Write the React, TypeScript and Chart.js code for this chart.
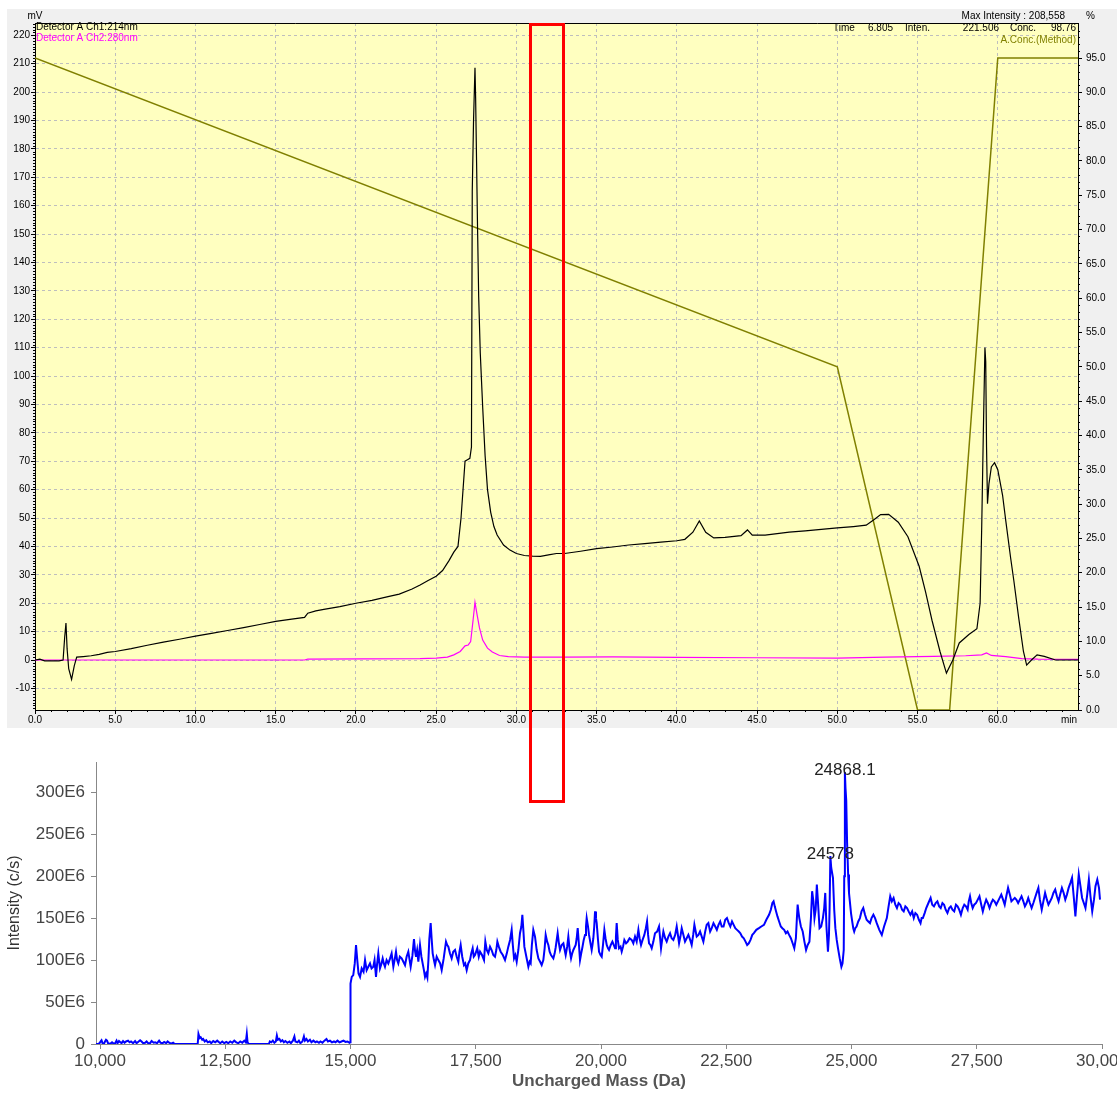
import React, { useEffect, useRef } from "react";
import { Chart, registerables } from "chart.js";
Chart.register(...registerables);

const FONT = "'Liberation Sans', Arial, sans-serif";

// ---------- Chromatogram (top) ----------
const chromTimeTicks = [0, 5, 10, 15, 20, 25, 30, 35, 40, 45, 50, 55, 60];
const mvTicks = [-10, 0, 10, 20, 30, 40, 50, 60, 70, 80, 90, 100, 110, 120, 130, 140, 150, 160, 170, 180, 190, 200, 210, 220];
const concTicks = [0, 5, 10, 15, 20, 25, 30, 35, 40, 45, 50, 55, 60, 65, 70, 75, 80, 85, 90, 95];

// Detector A Ch1:214nm (mV)
const ch1Time = [0, 0.3, 0.6, 1.0, 1.5, 1.75, 1.85, 1.93, 2.0, 2.1, 2.28, 2.45, 2.6, 3.0, 3.5, 4.0, 4.5, 5.0, 6, 7, 8, 9, 10, 11, 12, 13, 14, 15, 16, 16.8, 17.0, 17.5, 18, 19, 20, 21, 22, 22.7, 23.5, 24, 24.5, 25, 25.4, 25.8, 26.1, 26.36, 26.55, 26.7, 26.8, 26.95, 27.1, 27.2, 27.25, 27.33, 27.42, 27.46, 27.52, 27.58, 27.65, 27.75, 27.9, 28.05, 28.2, 28.4, 28.6, 28.8, 29.2, 29.6, 30, 30.5, 31, 31.5, 32, 32.5, 33, 34, 35, 36, 37, 38, 39, 40, 40.5, 41, 41.4, 41.8, 42.3, 43, 44, 44.4, 44.7, 45.5, 47, 48, 49, 50, 51, 51.8, 52.3, 52.7, 53.2, 53.8, 54.4, 55.1, 55.5, 55.9, 56.4, 56.8, 57.2, 57.6, 58.2, 58.7, 58.9, 59.0, 59.1, 59.2, 59.25, 59.3, 59.36, 59.45, 59.6, 59.8, 60.0, 60.3, 60.5, 60.8, 61.0, 61.3, 61.6, 61.8, 62.1, 62.45, 62.9, 63.6, 65];
const ch1Signal = [0, 0.3, -0.3, -0.3, -0.3, 0, 8, 13, 4, -3, -6.8, -2, 1, 1.2, 1.5, 2, 2.7, 3, 4, 5.2, 6.3, 7.3, 8.4, 9.4, 10.4, 11.4, 12.5, 13.6, 14.4, 15, 16.5, 17.3, 17.8, 18.8, 20, 21, 22.3, 23.2, 25, 26.4, 28, 29.5, 31.5, 35, 38, 40, 50, 62, 70, 70.5, 71, 75, 165, 190, 208.5, 198, 175, 152, 128, 108, 89, 72, 60, 52, 47, 44, 40.5, 38.7, 37.5, 36.8, 36.6, 36.5, 37, 37.5, 37.5, 38.3, 39.2, 39.8, 40.5, 41, 41.5, 42, 42.5, 45, 49, 45, 43, 43.2, 43.8, 45.8, 44, 44, 45, 45.5, 46, 46.5, 47, 47.5, 49.5, 51.2, 51.3, 48.5, 43.4, 33, 24, 14, 3, -4.6, 0, 6, 9, 11, 20, 47, 80, 110, 105, 75, 55, 62, 68, 69.5, 67, 58, 49, 36, 28, 15, 3, -1.8, 0, 1.8, 1.3, 0, 0];

// Detector A Ch2:280nm (mV)
const ch2Time = [0, 16.8, 17, 24, 25, 25.7, 26.1, 26.5, 26.8, 27.0, 27.15, 27.3, 27.42, 27.55, 27.7, 27.9, 28.2, 28.5, 28.95, 29.5, 30.5, 33, 36, 40, 45, 50, 53, 56, 58, 59.0, 59.3, 59.6, 60.5, 61.5, 62.5, 65];
const ch2Signal = [0, 0, 0.3, 0.5, 0.7, 1, 1.8, 3, 5, 5.3, 6.5, 14, 20.3, 16, 11.3, 7, 4.2, 2.8, 1.6, 1.2, 1, 1, 1.1, 0.9, 0.8, 0.7, 1, 1.3, 1.5, 1.8, 2.5, 1.6, 1.2, 0.5, 0.3, 0.2];

// A.Conc.(Method) (%)
const gradTime = [0, 50, 55, 57, 60, 65];
const gradConc = [95, 50, 0, 0, 95, 95];

// ---------- Deconvoluted mass spectrum (bottom) ----------
const massTicks = [10000, 12500, 15000, 17500, 20000, 22500, 25000, 27500, 30000];
const intensityTicks = [0, 50, 100, 150, 200, 250, 300];
const peakLabels = ["24868.1", "24578"];
const peakMass = [24868.1, 24578];
const peakIntensity = [324, 224];

const massDa = [9920, 9960, 9990, 10010, 10030, 10050, 10080, 10100, 10120, 10140, 10160, 10200, 10240, 10270, 10300, 10330, 10350, 10380, 10400, 10430, 10460, 10490, 10520, 10560, 10590, 10620, 10660, 10700, 10730, 10760, 10800, 10830, 10860, 10900, 10930, 10960, 11000, 11030, 11070, 11100, 11140, 11180, 11210, 11250, 11280, 11320, 11350, 11380, 11420, 11460, 11490, 11950, 11965, 11990, 12010, 12040, 12060, 12090, 12120, 12150, 12190, 12220, 12260, 12300, 12340, 12370, 12400, 12440, 12480, 12520, 12560, 12600, 12640, 12680, 12720, 12760, 12800, 12840, 12880, 12910, 12930, 12945, 12970, 13370, 13390, 13420, 13450, 13480, 13510, 13530, 13550, 13580, 13610, 13640, 13670, 13700, 13740, 13780, 13810, 13850, 13880, 13900, 13940, 13970, 14000, 14040, 14070, 14090, 14120, 14150, 14190, 14220, 14260, 14300, 14330, 14370, 14400, 14440, 14480, 14520, 14550, 14590, 14630, 14670, 14700, 14740, 14780, 14820, 14860, 14900, 14940, 14980, 14995,
  15000, 15025, 15055, 15085, 15110, 15135, 15160, 15190, 15223, 15260, 15290, 15322, 15355, 15389, 15420, 15455, 15480, 15509, 15530, 15555, 15588, 15615, 15642, 15665, 15688, 15720, 15755, 15790, 15821, 15855, 15880, 15908, 15930, 15954, 15985, 16021, 16055, 16088, 16120, 16154, 16180, 16201, 16235, 16267, 16290, 16307, 16330, 16354, 16387, 16415, 16440, 16465, 16487, 16510, 16534, 16555, 16573, 16600, 16620, 16640, 16665, 16687, 16720, 16753, 16790, 16820, 16860, 16906, 16930, 16953, 16985, 17019, 17050, 17086, 17120, 17152, 17175, 17199, 17230, 17265, 17290, 17319, 17350, 17385, 17410, 17438, 17460, 17485, 17530, 17560, 17585, 17625, 17665, 17691, 17720, 17751, 17785, 17817, 17850, 17884, 17910, 17931, 17960, 17997, 18040, 18084, 18120, 18150, 18185, 18217, 18240, 18264, 18290, 18317, 18350, 18383, 18410, 18430, 18450, 18470, 18510, 18550, 18575, 18596, 18620, 18649,
  18683, 18716, 18750, 18785, 18816, 18849, 18875, 18896, 18925, 18949, 18975, 19002, 19049, 19075, 19095, 19135, 19160, 19182, 19215, 19249, 19275, 19295, 19325, 19348, 19375, 19402, 19425, 19448, 19495, 19515, 19535, 19560, 19581, 19605, 19628, 19655, 19681, 19700, 19714, 19740, 19761, 19790, 19814, 19830, 19847, 19865, 19881, 19900, 19914, 19940, 19961, 19990, 20014, 20040, 20067, 20090, 20114, 20140, 20160, 20195, 20227, 20255, 20280, 20298, 20313, 20335, 20360, 20390, 20413, 20440, 20466, 20500, 20533, 20570, 20612, 20645, 20679, 20712, 20746, 20770, 20799, 20830, 20865, 20895, 20919, 20940, 20959, 20985, 21012, 21045, 21078, 21120, 21158, 21180, 21198, 21220, 21245, 21280, 21311, 21345, 21378, 21410, 21444, 21480, 21511, 21535, 21558, 21585, 21611, 21645, 21677, 21710, 21744, 21780, 21810, 21840, 21864, 21890, 21910, 21945, 21977,
  22043, 22080, 22110, 22143, 22178, 22210, 22245, 22280, 22312, 22345, 22379, 22410, 22446, 22480, 22514, 22550, 22581, 22615, 22648, 22680, 22715, 22750, 22782, 22815, 22850, 22885, 22917, 22950, 22984, 23020, 23051, 23100, 23152, 23200, 23253, 23300, 23354, 23390, 23421, 23445, 23468, 23495, 23522, 23555, 23589, 23620, 23656, 23690, 23723, 23755, 23790, 23825, 23858, 23890, 23910, 23925, 23940, 23958, 23990, 24026, 24060, 24093, 24125, 24160, 24190, 24214, 24240, 24261, 24285, 24308, 24330, 24362, 24395, 24429, 24455, 24476, 24500, 24530, 24550, 24563, 24578, 24595, 24630, 24655, 24678, 24705, 24731, 24765, 24798, 24820, 24845, 24855, 24868, 24880, 24895, 24912, 24933, 24950, 24967, 24990, 25014, 25035, 25054, 25075, 25101, 25135, 25168, 25200, 25235, 25270, 25302, 25335, 25369, 25400, 25437, 25470, 25504, 25555, 25605, 25650, 25705, 25740, 25773, 25805, 25840, 25875, 25907, 25940, 25974, 26010, 26042, 26075, 26109, 26140, 26176, 26210, 26243, 26275, 26310, 26345, 26378, 26400, 26425, 26460, 26492, 26535, 26579, 26612, 26646, 26680, 26714, 26750, 26781, 26815, 26848, 26880, 26915, 26950, 26982, 27015, 27050, 27085, 27117, 27150, 27184, 27220, 27251, 27285, 27318, 27340, 27365, 27390, 27419, 27450, 27486, 27520, 27554, 27590, 27621, 27655, 27688, 27720, 27755, 27790, 27822, 27855, 27890, 27940, 27990, 28025, 28058, 28090, 28125, 28160, 28192, 28225, 28259, 28290, 28326, 28360, 28394, 28430, 28461, 28495, 28528, 28560, 28595, 28630, 28662, 28695, 28730, 28760, 28797, 28830, 28864, 28900, 28931, 28965, 28998, 29030, 29066, 29100, 29133, 29165, 29200, 29235, 29267, 29300, 29334, 29370, 29402, 29435, 29469, 29500, 29536, 29570, 29603, 29637, 29670, 29705, 29738, 29770, 29805, 29840, 29870, 29906, 29940, 29960];

const massIntensity = [0, 0, 1, 3, 4.5, 1, 0.5, 3, 5, 4, 1, 0, 2, 0.5, 0.5, 4, 1, 3.5, 2.5, 1, 3.5, 1.5, 3, 4, 2, 3, 1, 3.5, 1, 2.5, 4.5, 3, 1, 1.5, 3, 1, 1, 3.5, 1.5, 2, 1, 4, 1.5, 1, 2.5, 1, 3, 1.5, 0.5, 1.5, 0, 0, 12, 7, 8, 5, 6, 3, 4.5, 2, 3, 1, 3.5, 2, 4, 2.5, 1, 3, 1, 2.5, 1, 3, 1.5, 4, 2, 1, 3, 1.5, 4, 2, 12, 2, 0, 0, 3, 2, 4, 1.5, 3, 10, 5, 6, 3, 4.5, 2, 3.5, 1.5, 3, 1, 4, 9, 3, 2, 4, 1, 3, 9, 4, 6, 3, 5, 2, 4, 2, 3, 1.5, 3, 1.5, 4, 6, 3, 4, 2, 3, 2, 4, 2, 3, 4, 2.5, 3, 1.5, 2,
  72, 80, 82, 96, 118, 100, 84, 80, 90, 86, 100, 88, 92, 96, 90, 92, 100, 80, 95, 108, 90, 95, 102, 96, 92, 100, 96, 102, 108, 92, 100, 110, 100, 96, 104, 102, 98, 94, 104, 110, 100, 92, 105, 125, 110, 104, 112, 98, 118, 104, 96, 88, 80, 84, 79, 100, 125, 144, 125, 108, 100, 94, 104, 100, 96, 88, 102, 122, 118, 116, 108, 102, 110, 112, 104, 98, 110, 118, 104, 94, 96, 88, 96, 100, 108, 114, 104, 106, 114, 104, 110, 106, 100, 122, 112, 108, 116, 112, 106, 104, 112, 122, 116, 110, 106, 100, 108, 116, 124, 136, 118, 102, 106, 98, 112, 132, 140, 154, 136, 116, 104, 92, 98, 96, 118, 136,
  128, 112, 102, 98, 94, 100, 114, 130, 122, 118, 110, 106, 102, 108, 115, 132, 120, 112, 118, 120, 112, 106, 116, 128, 112, 102, 108, 112, 118, 126, 138, 118, 100, 108, 115, 124, 130, 140, 150, 140, 130, 120, 112, 118, 126, 140, 158, 150, 144, 124, 110, 106, 104, 118, 136, 126, 118, 114, 112, 118, 122, 118, 114, 128, 144, 124, 114, 116, 110, 116, 124, 120, 122, 126, 124, 120, 128, 122, 136, 126, 118, 124, 130, 138, 146, 130, 120, 118, 114, 122, 132, 134, 140, 126, 114, 124, 134, 126, 122, 128, 132, 126, 124, 130, 140, 130, 120, 128, 138, 130, 122, 126, 130, 124, 118, 130, 142, 134, 128, 130, 134,
  122, 134, 142, 144, 134, 138, 144, 140, 136, 142, 146, 140, 140, 148, 150, 144, 140, 146, 142, 138, 136, 134, 132, 128, 126, 122, 118, 120, 124, 130, 132, 136, 138, 140, 142, 148, 154, 160, 168, 170, 164, 158, 152, 146, 140, 138, 136, 132, 134, 130, 126, 120, 114, 126, 150, 166, 158, 150, 140, 134, 122, 112, 118, 122, 150, 182, 170, 150, 160, 190, 170, 138, 140, 150, 162, 180, 140, 110, 130, 162, 224, 210, 198, 160, 138, 124, 114, 102, 92, 96, 112, 200, 324, 305, 290, 240, 202, 180, 170, 156, 146, 138, 134, 138, 140, 146, 150, 158, 162, 154, 148, 146, 144, 150, 154, 150, 144, 136, 130, 140, 150, 164, 176, 170, 174, 166, 162, 168, 166, 160, 158, 164, 162, 158, 154, 158, 150, 156, 154, 148, 144, 150, 150, 156, 162, 168, 174, 166, 164, 168, 170, 164, 162, 168, 166, 160, 156, 162, 164, 160, 158, 166, 164, 160, 154, 162, 166, 164, 160, 170, 176, 168, 162, 166, 168, 172, 176, 166, 158, 166, 172, 168, 162, 168, 172, 170, 166, 172, 178, 172, 166, 176, 186, 178, 170, 172, 174, 172, 168, 172, 176, 170, 164, 168, 174, 168, 162, 168, 174, 180, 186, 172, 160, 170, 180, 172, 166, 170, 174, 180, 184, 176, 170, 178, 186, 180, 172, 178, 186, 192, 198, 176, 152, 176, 202, 188, 174, 168, 162, 178, 196, 176, 158, 172, 188, 196, 186, 172];

function toPoints(xs: number[], ys: number[]) {
  return xs.map((x, i) => ({ x, y: ys[i] }));
}

const topOverlay = {
  id: "topOverlay",
  beforeDraw(chart: any) {
    const { ctx, chartArea: a, width, height } = chart;
    ctx.save();
    ctx.fillStyle = "rgb(240,240,240)";
    ctx.fillRect(0, 0, width, height);
    ctx.fillStyle = "rgb(255,255,192)";
    ctx.fillRect(a.left, a.top, a.right - a.left, a.bottom - a.top);
    ctx.restore();
  },
  afterDraw(chart: any) {
    const { ctx, chartArea: a, scales } = chart;
    const sx = scales.x, sy = scales.y, sy1 = scales.y1;
    ctx.save();
    ctx.strokeStyle = "#000";
    ctx.lineWidth = 1;
    ctx.beginPath();
    ctx.moveTo(a.left, a.top + 0.5);
    ctx.lineTo(a.right, a.top + 0.5);
    for (let t = 1; t < 65; t++) {
      if (t % 5 === 0) continue;
      const px = Math.round(sx.getPixelForValue(t)) + 0.5;
      ctx.moveTo(px, a.bottom);
      ctx.lineTo(px, a.bottom + 2);
    }
    for (let v = -17; v <= 224; v++) {
      if (v % 10 === 0) continue;
      const py = Math.round(sy.getPixelForValue(v)) + 0.5;
      ctx.moveTo(a.left - 2, py);
      ctx.lineTo(a.left, py);
    }
    for (let v = 1; v < 100; v++) {
      if (v % 5 === 0) continue;
      const py = Math.round(sy1.getPixelForValue(v)) + 0.5;
      ctx.moveTo(a.right, py);
      ctx.lineTo(a.right + 2, py);
    }
    ctx.stroke();

    ctx.font = `10px ${FONT}`;
    ctx.textBaseline = "middle";
    ctx.fillStyle = "#000";
    ctx.textAlign = "center";
    ctx.fillText("mV", a.left, a.top - 7);
    ctx.textAlign = "left";
    ctx.fillText("Detector A Ch1:214nm", a.left + 1, a.top + 4);
    ctx.fillStyle = "#ff00ff";
    ctx.fillText("Detector A Ch2:280nm", a.left + 1, a.top + 15);
    ctx.fillStyle = "#000";
    ctx.textAlign = "right";
    ctx.fillText("Max Intensity : 208,558", a.right - 13, a.top - 7);
    ctx.textAlign = "left";
    ctx.fillText("%", a.right + 8, a.top - 7);
    ctx.fillText("Time", a.right - 245, a.top + 5);
    ctx.fillText("6.805", a.right - 210, a.top + 5);
    ctx.fillText("Inten.", a.right - 173, a.top + 5);
    ctx.fillText("Conc.", a.right - 68, a.top + 5);
    ctx.textAlign = "right";
    ctx.fillText("221.506", a.right - 79, a.top + 5);
    ctx.fillText("98.76", a.right - 2, a.top + 5);
    ctx.fillStyle = "rgb(128,128,0)";
    ctx.fillText("A.Conc.(Method)", a.right - 2, a.top + 17);
    ctx.fillStyle = "#000";
    ctx.fillText("min", a.right - 1, a.bottom + 10);
    ctx.restore();
  },
};

const bottomOverlay = {
  id: "bottomOverlay",
  afterDraw(chart: any) {
    const { ctx, chartArea: a, scales } = chart;
    const sx = scales.x, sy = scales.y;
    ctx.save();
    ctx.font = `17px ${FONT}`;
    ctx.fillStyle = "#222";
    ctx.textAlign = "center";
    ctx.textBaseline = "alphabetic";
    peakLabels.forEach((lab, i) => {
      ctx.fillText(lab, sx.getPixelForValue(peakMass[i]), sy.getPixelForValue(peakIntensity[i]) + 3);
    });
    ctx.save();
    ctx.translate(a.left - 81, (a.top + a.bottom) / 2);
    ctx.rotate(-Math.PI / 2);
    ctx.font = `16px ${FONT}`;
    ctx.fillStyle = "#333";
    ctx.textBaseline = "middle";
    ctx.fillText("Intensity (c/s)", 0, 0);
    ctx.restore();
    ctx.font = `bold 17px ${FONT}`;
    ctx.fillStyle = "#555";
    ctx.textBaseline = "middle";
    ctx.fillText("Uncharged Mass (Da)", (a.left + a.right) / 2, a.bottom + 37);
    ctx.restore();
  },
};

export default function App() {
  const topRef = useRef<HTMLCanvasElement>(null);
  const botRef = useRef<HTMLCanvasElement>(null);

  useEffect(() => {
    const tickFont = { family: FONT, size: 10 };
    const top = new Chart(topRef.current as HTMLCanvasElement, {
      type: "line",
      data: {
        datasets: [
          {
            label: "Detector A Ch1:214nm",
            data: toPoints(ch1Time, ch1Signal),
            yAxisID: "y",
            borderColor: "#000000",
            borderWidth: 1.2,
            pointRadius: 0,
            tension: 0,
          },
          {
            label: "Detector A Ch2:280nm",
            data: toPoints(ch2Time, ch2Signal),
            yAxisID: "y",
            borderColor: "#ff00ff",
            borderWidth: 1.2,
            pointRadius: 0,
            tension: 0,
          },
          {
            label: "A.Conc.(Method)",
            data: toPoints(gradTime, gradConc),
            yAxisID: "y1",
            borderColor: "rgb(128,128,0)",
            borderWidth: 1.5,
            pointRadius: 0,
            tension: 0,
          },
        ],
      },
      options: {
        animation: false,
        responsive: false,
        devicePixelRatio: 1,
        layout: { padding: { top: 14, left: 0, right: 0, bottom: 0 } },
        plugins: { legend: { display: false }, tooltip: { enabled: false } },
        scales: {
          x: {
            type: "linear",
            min: 0,
            max: 65,
            afterBuildTicks: (s: any) => {
              s.ticks = chromTimeTicks.map((v) => ({ value: v }));
            },
            afterFit: (s: any) => {
              s.height = 18;
              s.paddingLeft = 0;
              s.paddingRight = 0;
            },
            grid: { color: "rgb(190,190,190)", tickColor: "#000", tickLength: 4, drawTicks: true },
            border: { color: "#000", dash: [3, 3] },
            ticks: {
              font: tickFont,
              color: "#000",
              padding: 0,
              maxRotation: 0,
              autoSkip: false,
              callback: (v: any) => Number(v).toFixed(1),
            },
          },
          y: {
            type: "linear",
            position: "left",
            min: -17.6,
            max: 224.3,
            afterBuildTicks: (s: any) => {
              s.ticks = mvTicks.map((v) => ({ value: v }));
            },
            afterFit: (s: any) => {
              s.width = 28;
              s.paddingTop = 0;
              s.paddingBottom = 0;
            },
            grid: { color: "rgb(190,190,190)", tickColor: "#000", tickLength: 4, drawTicks: true },
            border: { color: "#000", dash: [3, 3] },
            ticks: { font: tickFont, color: "#000", padding: 1, autoSkip: false, callback: (v: any) => String(v) },
          },
          y1: {
            type: "linear",
            position: "right",
            min: 0,
            max: 100.1,
            afterBuildTicks: (s: any) => {
              s.ticks = concTicks.map((v) => ({ value: v }));
            },
            afterFit: (s: any) => {
              s.width = 39;
              s.paddingTop = 0;
              s.paddingBottom = 0;
            },
            grid: { drawOnChartArea: false, tickColor: "#000", tickLength: 4, drawTicks: true },
            border: { color: "#000" },
            ticks: {
              font: tickFont,
              color: "#000",
              padding: 4,
              autoSkip: false,
              callback: (v: any) => Number(v).toFixed(1),
            },
          },
        },
      },
      plugins: [topOverlay],
    } as any);

    const bigFont = { family: FONT, size: 17 };
    const bottom = new Chart(botRef.current as HTMLCanvasElement, {
      type: "line",
      data: {
        datasets: [
          {
            label: "Intensity",
            data: toPoints(massDa, massIntensity),
            borderColor: "#0000ff",
            borderWidth: 2,
            pointRadius: 0,
            tension: 0,
          },
        ],
      },
      options: {
        animation: false,
        responsive: false,
        devicePixelRatio: 1,
        layout: { padding: { top: 22, left: 0, right: 15, bottom: 0 } },
        plugins: { legend: { display: false }, tooltip: { enabled: false } },
        scales: {
          x: {
            type: "linear",
            min: 9920,
            max: 30000,
            afterBuildTicks: (s: any) => {
              s.ticks = massTicks.map((v) => ({ value: v }));
            },
            afterFit: (s: any) => {
              s.height = 50;
              s.paddingLeft = 0;
              s.paddingRight = 0;
            },
            grid: { drawOnChartArea: false, color: "#888", tickColor: "#888", tickLength: 5, drawTicks: true },
            border: { color: "#888", width: 1 },
            ticks: {
              font: bigFont,
              color: "#444",
              padding: 2,
              maxRotation: 0,
              autoSkip: false,
              callback: (v: any) => Number(v).toLocaleString("en-US"),
            },
          },
          y: {
            type: "linear",
            min: 0,
            max: 336,
            afterBuildTicks: (s: any) => {
              s.ticks = intensityTicks.map((v) => ({ value: v }));
            },
            afterFit: (s: any) => {
              s.width = 96;
              s.paddingTop = 0;
              s.paddingBottom = 0;
            },
            grid: { drawOnChartArea: false, color: "#888", tickColor: "#888", tickLength: 5, drawTicks: true },
            border: { color: "#888", width: 1 },
            ticks: {
              font: bigFont,
              color: "#444",
              padding: 6,
              autoSkip: false,
              callback: (v: any) => (Number(v) === 0 ? "0" : `${v}E6`),
            },
          },
        },
      },
      plugins: [bottomOverlay],
    } as any);

    return () => {
      top.destroy();
      bottom.destroy();
    };
  }, []);

  return (
    <div style={{ position: "absolute", left: 0, top: 0, width: 1117, height: 1094, background: "#fff", overflow: "hidden" }}>
      <canvas
        ref={topRef}
        width={1110}
        height={719}
        style={{ position: "absolute", left: 7, top: 9, width: 1110, height: 719 }}
      />
      <canvas
        ref={botRef}
        width={1117}
        height={354}
        style={{ position: "absolute", left: 0, top: 740, width: 1117, height: 354 }}
      />
      <div
        style={{
          position: "absolute",
          left: 529,
          top: 23,
          width: 36,
          height: 780,
          boxSizing: "border-box",
          border: "3px solid #ff0000",
        }}
      />
    </div>
  );
}
